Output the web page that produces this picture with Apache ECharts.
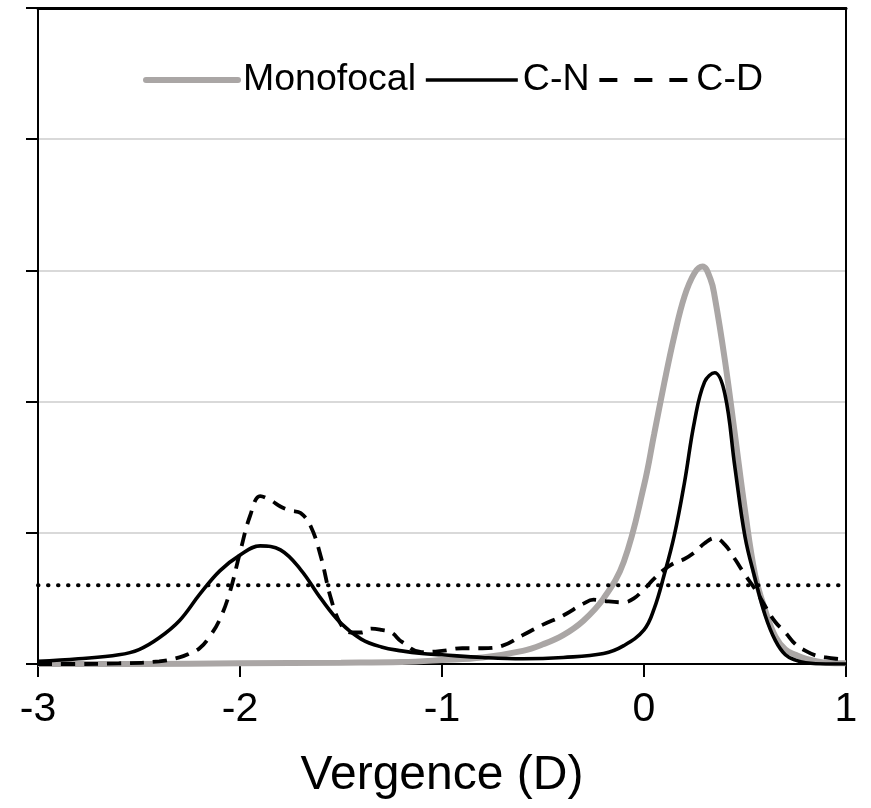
<!DOCTYPE html>
<html>
<head>
<meta charset="utf-8">
<script src="https://cdn.jsdelivr.net/npm/echarts@6/dist/echarts.min.js"></script>
<style>html,body{margin:0;padding:0;background:#fff}#c{width:871px;height:808px}</style>
</head>
<body>
<div id="c"></div>
<script>
var xTicks = [-3, -2, -1, 0, 1];
var monoX = [-3, -2.5, -2, -1.5, -1.2, -1.0, -0.8, -0.6, -0.5, -0.4, -0.3, -0.2, -0.1, 0, 0.05, 0.1, 0.15, 0.2, 0.25, 0.29, 0.33, 0.35, 0.4, 0.45, 0.5, 0.55, 0.6, 0.65, 0.7, 0.75, 0.8, 0.9, 1.0];
var monoY = [0, 0, 0.005, 0.01, 0.015, 0.03, 0.05, 0.1, 0.15, 0.22, 0.33, 0.5, 0.78, 1.36, 1.75, 2.14, 2.5, 2.8, 2.98, 3.03, 2.93, 2.8, 2.32, 1.75, 1.17, 0.68, 0.41, 0.21, 0.11, 0.07, 0.04, 0.01, 0.005];
var cnX = [-3, -2.8, -2.6, -2.5, -2.4, -2.3, -2.2, -2.1, -2.0, -1.9, -1.8, -1.7, -1.6, -1.5, -1.4, -1.3, -1.2, -1.1, -1.0, -0.8, -0.6, -0.4, -0.2, -0.1, 0, 0.05, 0.1, 0.15, 0.2, 0.25, 0.3, 0.35, 0.4, 0.45, 0.5, 0.55, 0.6, 0.65, 0.7, 0.75, 0.8, 0.9, 1.0];
var cnY = [0.02, 0.04, 0.07, 0.11, 0.2, 0.33, 0.53, 0.71, 0.83, 0.90, 0.87, 0.72, 0.5, 0.31, 0.19, 0.13, 0.10, 0.08, 0.07, 0.05, 0.04, 0.05, 0.08, 0.14, 0.26, 0.42, 0.68, 0.98, 1.38, 1.85, 2.15, 2.22, 2.06, 1.5, 0.97, 0.65, 0.37, 0.18, 0.07, 0.03, 0.01, 0, 0];
var cdX = [-3, -2.8, -2.6, -2.4, -2.3, -2.25, -2.2, -2.15, -2.1, -2.05, -2.0, -1.95, -1.9, -1.85, -1.8, -1.75, -1.7, -1.65, -1.6, -1.55, -1.5, -1.45, -1.4, -1.35, -1.3, -1.25, -1.2, -1.1, -1.0, -0.9, -0.8, -0.7, -0.6, -0.5, -0.4, -0.3, -0.25, -0.2, -0.1, -0.05, 0, 0.05, 0.1, 0.15, 0.2, 0.25, 0.3, 0.35, 0.4, 0.45, 0.5, 0.55, 0.6, 0.65, 0.7, 0.75, 0.8, 0.85, 0.9, 0.95, 1.0];
var cdY = [0, 0, 0.005, 0.02, 0.05, 0.08, 0.12, 0.21, 0.34, 0.55, 0.85, 1.13, 1.28, 1.25, 1.2, 1.17, 1.15, 1.05, 0.82, 0.5, 0.3, 0.24, 0.24, 0.27, 0.26, 0.24, 0.17, 0.09, 0.1, 0.12, 0.12, 0.14, 0.22, 0.3, 0.37, 0.46, 0.49, 0.48, 0.47, 0.5, 0.57, 0.65, 0.72, 0.77, 0.8, 0.85, 0.92, 0.96, 0.91, 0.8, 0.68, 0.57, 0.44, 0.32, 0.24, 0.15, 0.1, 0.065, 0.05, 0.04, 0.035];
var refX = [-3, 1];
var refY = [0.6, 0.6];

function pairs(xs, ys) { return xs.map(function (x, i) { return [x, ys[i]]; }); }

var FONT = '"Liberation Sans", Arial, sans-serif';
var chart = echarts.init(document.getElementById('c'), null, { renderer: 'canvas' });
chart.setOption({
  animation: false,
  backgroundColor: '#fff',
  grid: { left: 38, right: 25, top: 8, bottom: 144 },
  legend: {
    data: [
      { name: 'Monofocal', lineStyle: { width: 6, color: '#aaa6a5', cap: 'round' } },
      { name: 'C-N', lineStyle: { width: 3.6, color: '#000' } },
      { name: 'C-D', lineStyle: { width: 3.8, color: '#000', type: [18, 17] } }
    ],
    left: 138, top: 56,
    itemWidth: 92, itemHeight: 12, itemGap: 8,
    itemStyle: { opacity: 0 },
    textStyle: { fontFamily: FONT, fontSize: 37.5, color: '#000' }
  },
  xAxis: [{
    type: 'value', min: -3, max: 1, interval: 1,
    name: 'Vergence (D)', nameLocation: 'middle', nameGap: 88,
    nameTextStyle: { fontFamily: FONT, fontSize: 48, color: '#000' },
    axisLine: { onZero: false, lineStyle: { color: '#000', width: 2 } },
    axisTick: { show: true, inside: false, length: 13, lineStyle: { color: '#000', width: 2 } },
    axisLabel: { fontFamily: FONT, fontSize: 41, color: '#000', margin: 25,
      formatter: function (v) { return xTicks.indexOf(v) >= 0 ? String(v) : ''; } },
    splitLine: { show: false }
  }, {
    type: 'value', position: 'top', min: -3, max: 1,
    axisLine: { show: true, onZero: false, lineStyle: { color: '#000', width: 3 } },
    axisTick: { show: false }, axisLabel: { show: false }, splitLine: { show: false }
  }],
  yAxis: [{
    type: 'value', min: 0, max: 5, interval: 1,
    axisLine: { show: true, onZero: false, lineStyle: { color: '#000', width: 2 } },
    axisTick: { show: true, inside: false, length: 12, lineStyle: { color: '#000', width: 2 } },
    axisLabel: { show: false },
    splitLine: { show: true, lineStyle: { color: '#d9d9d9', width: 2 } }
  }, {
    type: 'value', position: 'right', min: 0, max: 5,
    axisLine: { show: true, onZero: false, lineStyle: { color: '#000', width: 2 } },
    axisTick: { show: false }, axisLabel: { show: false }, splitLine: { show: false }
  }],
  series: [
    { name: 'Monofocal', type: 'line', smooth: 0.4, symbol: 'none', data: pairs(monoX, monoY),
      color: '#aaa6a5', lineStyle: { color: '#aaa6a5', width: 6 }, z: 2 },
    { name: 'C-N', type: 'line', smooth: 0.4, symbol: 'none', data: pairs(cnX, cnY),
      color: '#000', lineStyle: { color: '#000', width: 3.6 }, z: 3 },
    { name: 'C-D', type: 'line', smooth: 0.4, symbol: 'none', data: pairs(cdX, cdY),
      color: '#000', lineStyle: { color: '#000', width: 3.8, type: [14, 9] }, z: 4 },
    { name: 'ref', type: 'line', symbol: 'none', data: pairs(refX, refY),
      color: '#000', lineStyle: { color: '#000', width: 4, type: [0.5, 9.5], cap: 'round' }, z: 5 }
  ]
});
</script>
</body>
</html>
